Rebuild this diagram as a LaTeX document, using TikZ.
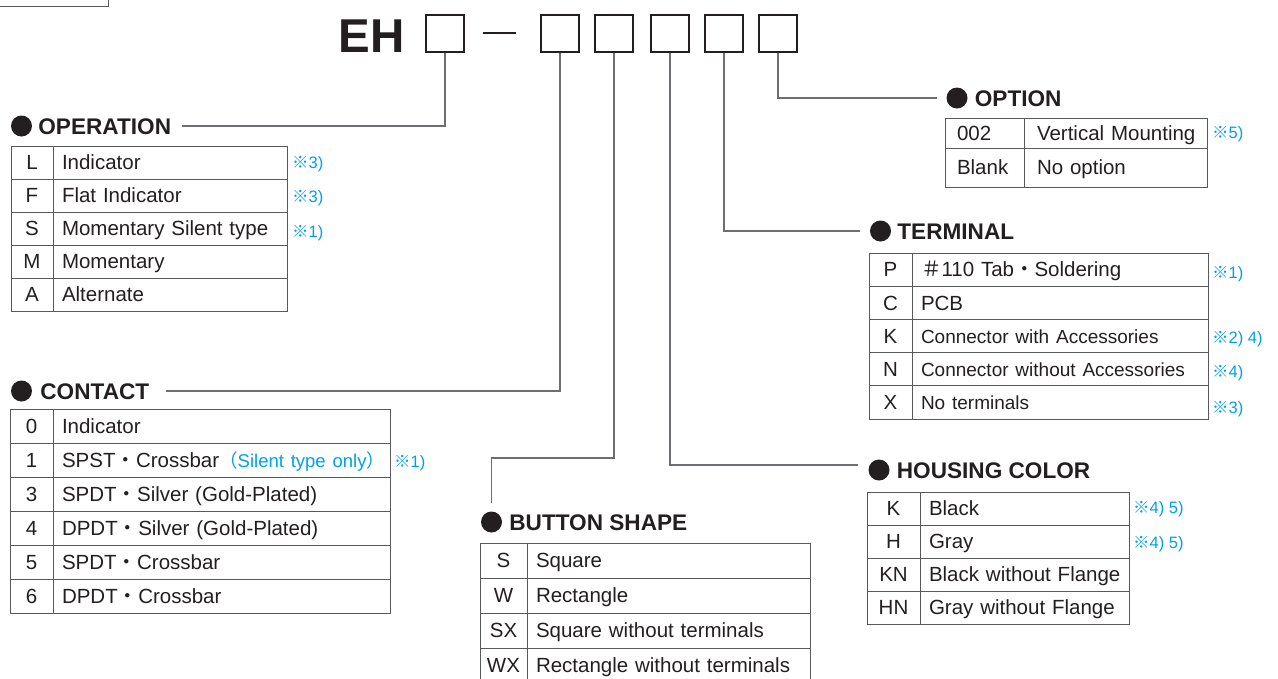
\documentclass[tikz,border=0pt]{standalone}
\usepackage{fontspec}
\setmainfont{Liberation Sans}
\newfontfamily\cjk{Noto Sans CJK JP}
\usetikzlibrary{positioning}
\definecolor{textdark}{HTML}{231F20}
\definecolor{leadgray}{HTML}{6D6E71}
\definecolor{rulegray}{HTML}{58595B}
\definecolor{notecyan}{HTML}{00A0E9}
\newcommand{\kdot}{{\cjk ・}}
\newcommand{\refmark}{{\cjk ※}}
\newcommand{\tsm}{\fontsize{19}{22}\selectfont}
\newcommand{\cyansm}{\color{notecyan}\fontsize{18.5}{22}\selectfont}

\begin{document}
\begin{tikzpicture}[x=1pt, y=-1pt,
    slot/.style={draw=textdark, line width=1.2pt, minimum width=38pt, minimum height=37pt, inner sep=0pt},
    lead/.style={draw=leadgray, line width=1.2pt},
    dot/.style={circle, fill=textdark, minimum size=21pt, inner sep=0pt},
    head/.style={font=\fontsize{22.6}{26}\selectfont\bfseries, text=textdark, inner sep=0pt, text height=16.2pt, text depth=0pt},
    cell/.style={draw=rulegray, line width=1pt, outer sep=0pt, inner ysep=0pt, text height=17.5pt, text depth=3pt, font=\fontsize{20.5}{24}\selectfont, text=textdark},
    codecell/.style={cell, inner xsep=0pt},
    desccell/.style={cell, inner xsep=9pt, align=left},
    note/.style={text=notecyan, font=\fontsize{16.5}{20}\selectfont, anchor=west, inner sep=0pt, text height=11.8pt, text depth=0pt},
]
\useasboundingbox (0,0) rectangle (1278,678);

% part number
\node[draw=rulegray, line width=1.5pt, minimum width=130pt, minimum height=30pt, inner sep=0pt, anchor=south east] (tag) at (109,7) {};
\node[font=\fontsize{47.5}{50}\selectfont\bfseries, text=textdark, inner sep=0pt, text height=34pt, text depth=0pt] (eh) at (371.5,35) {EH};
\node[slot] (s1) at (445,33.5) {};
\node[fill=textdark, minimum width=33pt, minimum height=2.7pt, inner sep=0pt] (dash) at (499.5,33) {};
\foreach \x [count=\i from 2] in {560,614,670,724,778}
  \node[slot] (s\i) at (\x,33.5) {};

% operation
\node[dot] (opdot) at (21.5,126) {};
\node[head, right=6pt of opdot] (ophead) {OPERATION};
\foreach \c/\d [count=\i] in {L/Indicator, F/Flat Indicator, S/Momentary Silent type, M/Momentary, A/Alternate} {
  \node[codecell, minimum width=42pt, minimum height=33pt] (opc\i) at (32,129.5+33*\i) {\c};
  \node[desccell, text width=216pt, minimum height=33pt, anchor=west] (opd\i) at (opc\i.east) {\mbox{\d}};
}
\node[note] (opn1) at (292,163) {\refmark3)};
\node[note] (opn2) at (292,197) {\refmark3)};
\node[note] (opn3) at (292,232) {\refmark1)};

% contact
\node[dot] (ctdot) at (21.5,391) {};
\node[head, right=8pt of ctdot] (cthead) {CONTACT};
\foreach \c/\d [count=\i] in {0/Indicator, 1/{SPST\kdot Crossbar{\cyansm{\cjk （}Silent type only{\cjk ）}}}, 3/{SPDT\kdot Silver (Gold-Plated)}, 4/{DPDT\kdot Silver (Gold-Plated)}, 5/{SPDT\kdot Crossbar}, 6/{DPDT\kdot Crossbar}} {
  \node[codecell, minimum width=43pt, minimum height=34pt] (ctc\i) at (31.5,392+34*\i) {\c};
  \node[desccell, text width=319pt, minimum height=34pt, anchor=west] (ctd\i) at (ctc\i.east) {\mbox{\d}};
}
\node[note] (ctn2) at (394,462) {\refmark1)};

% button shape
\node[dot] (btndot) at (491.5,522) {};
\node[head, right=7pt of btndot] (btnhead) {BUTTON SHAPE};
\foreach \c/\d [count=\i] in {S/Square, W/Rectangle, SX/Square without terminals, WX/Rectangle without terminals} {
  \node[codecell, minimum width=47pt, minimum height=35pt] (btc\i) at (503.5,525.5+35*\i) {\c};
  \node[desccell, text width=265pt, minimum height=35pt, anchor=west] (btd\i) at (btc\i.east) {\mbox{\d}};
}

% housing color
\node[dot] (hcdot) at (879,470) {};
\node[head, right=7pt of hcdot] (hchead) {HOUSING COLOR};
\foreach \c/\d [count=\i] in {K/Black, H/Gray, KN/Black without Flange, HN/Gray without Flange} {
  \node[codecell, minimum width=53pt, minimum height=33pt] (hcc\i) at (893.5,475.5+33*\i) {\c};
  \node[desccell, text width=191pt, minimum height=33pt, anchor=west] (hcd\i) at (hcc\i.east) {\mbox{\d}};
}
\node[note] (hcn1) at (1133,508) {\refmark4) 5)};
\node[note] (hcn2) at (1133,543) {\refmark4) 5)};

% terminal
\node[dot] (tmdot) at (880.5,231) {};
\node[head, right=6pt of tmdot] (tmhead) {TERMINAL};
\foreach \c/\d [count=\i] in {P/{{\cjk ＃}110 Tab\kdot Soldering}, C/PCB, K/{\tsm Connector with Accessories}, N/{\tsm Connector without Accessories}, X/{\tsm No terminals}} {
  \node[codecell, minimum width=43pt, minimum height=33.2pt] (tmc\i) at (890.5,236.4+33.2*\i) {\c};
  \node[desccell, text width=278pt, minimum height=33.2pt, anchor=west] (tmd\i) at (tmc\i.east) {\mbox{\d}};
}
\node[note] (tmn1) at (1212,273) {\refmark1)};
\node[note] (tmn3) at (1212,338) {\refmark2) 4)};
\node[note] (tmn4) at (1212,372) {\refmark4)};
\node[note] (tmn5) at (1212,408) {\refmark3)};

% option
\node[dot] (ptdot) at (957,98) {};
\node[head, right=7pt of ptdot] (pthead) {OPTION};
\node[desccell, inner xsep=12pt, text width=55pt, minimum height=30pt, anchor=west] (ptc1) at (945,133) {\mbox{002}};
\node[desccell, inner xsep=13pt, text width=157pt, minimum height=30pt, anchor=west] (ptd1) at (ptc1.east) {\mbox{Vertical Mounting}};
\node[desccell, inner xsep=12pt, text width=55pt, minimum height=39pt, anchor=north west] (ptc2) at (ptc1.south west) {\mbox{Blank}};
\node[desccell, inner xsep=13pt, text width=157pt, minimum height=39pt, anchor=west] (ptd2) at (ptc2.east) {\mbox{No option}};
\node[note] (ptn1) at (1212,133) {\refmark5)};

% leader lines
\coordinate (bend) at (491.5,458);
\draw[lead] (s1.south) |- ([xshift=11pt]ophead.east);
\draw[lead] (s2.south) |- ([xshift=17pt]cthead.east);
\draw[lead] (s3.south) |- (bend) -- ([yshift=8.5pt]btndot.north);
\draw[lead] (s4.south) |- ([xshift=-10pt,yshift=5pt]hcdot.west);
\draw[lead] (s5.south) |- ([xshift=-10pt]tmdot.west);
\draw[lead] (s6.south) |- ([xshift=-9pt]ptdot.west);
\end{tikzpicture}
\end{document}
